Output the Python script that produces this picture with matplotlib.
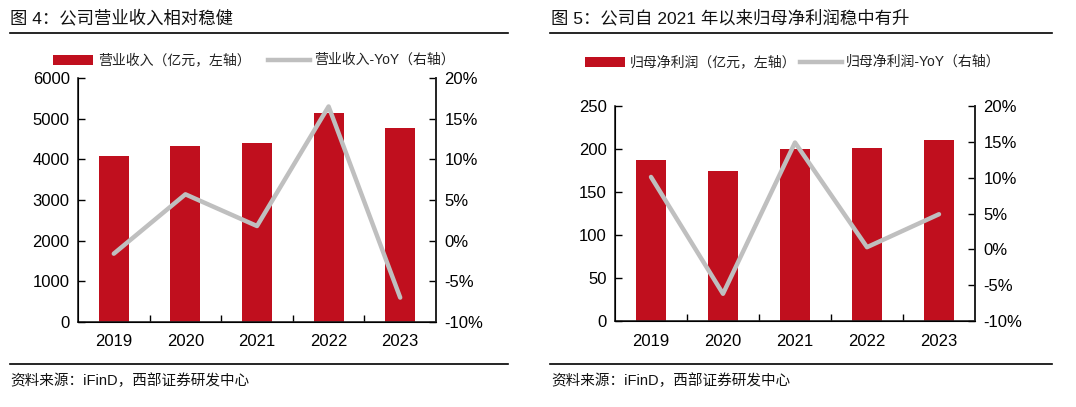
import matplotlib
matplotlib.use("Agg")
import matplotlib.pyplot as plt
from matplotlib.patches import Rectangle
from matplotlib.lines import Line2D
from matplotlib.ticker import FuncFormatter, FixedLocator

plt.rcParams["font.family"] = ["Liberation Sans", "Noto Sans CJK SC"]

# data
years = ["2019", "2020", "2021", "2022", "2023"]
revenue = [4090, 4328, 4410, 5131, 4770]
revenue_yoy = [-1.6, 5.7, 1.8, 16.5, -7.0]
profit = [186.8, 174.7, 200.3, 201.5, 210.8]
profit_yoy = [10.1, -6.2, 14.9, 0.3, 4.9]

RED = "#C00F1E"
GREY = "#BFBFBF"
W, H = 1076, 407

fig = plt.figure(figsize=(W / 100, H / 100), dpi=100)


def px(x0, y0, x1, y1):
    # pixel box (top-left origin) -> figure fraction rect
    return [x0 / W, 1 - y1 / H, (x1 - x0) / W, (y1 - y0) / H]


def panel(box, bars, yoy, ymax, ystep, title, lx, title_x, bar_label, line_label, leg_x, leg_y):
    ax = fig.add_axes(px(*box))
    x = list(range(len(years)))
    ax.bar(x, bars, width=0.42, color=RED, zorder=2)
    ax.set_xlim(-0.5, len(years) - 0.5)
    ax.set_ylim(0, ymax)
    ax.set_yticks(list(range(0, ymax + 1, ystep)))
    ax.set_xticks(x)
    ax.set_xticklabels(years)
    ax.xaxis.set_minor_locator(FixedLocator([i + 0.5 for i in x[:-1]]))
    ax.tick_params(axis="x", which="major", length=0, labelsize=12, pad=9)
    ax.tick_params(axis="x", which="minor", direction="in", length=5, width=1)
    ax.tick_params(axis="y", direction="in", length=5, width=1, labelsize=12, pad=6)
    ax.spines["top"].set_visible(False)
    for s in ["left", "right", "bottom"]:
        ax.spines[s].set_linewidth(1.2)
        ax.spines[s].set_color("#222222")

    ax2 = ax.twinx()
    ax2.plot(x, yoy, color=GREY, lw=3.2, zorder=3, solid_capstyle="round")
    ax2.set_ylim(-10, 20)
    ax2.set_yticks([-10, -5, 0, 5, 10, 15, 20])
    ax2.yaxis.set_major_formatter(FuncFormatter(lambda v, p: f"{v:.0f}%"))
    ax2.tick_params(axis="y", direction="in", length=5, width=1, labelsize=12, pad=6)
    ax2.spines["top"].set_visible(False)
    ax2.spines["right"].set_linewidth(1.2)
    ax2.spines["right"].set_color("#222222")

    # title and rules
    fig.text(title_x / W, 1 - 18 / H, title, fontsize=12.5, va="center", ha="left", color="#111111")
    fig.add_artist(Line2D([lx[0] / W, lx[1] / W], [1 - 32.5 / H] * 2, color="black", lw=1.2))
    fig.add_artist(Line2D([lx[0] / W, lx[1] / W], [1 - 364 / H] * 2, color="black", lw=1.2))
    fig.text(title_x / W, 1 - 381 / H, "资料来源：iFinD，西部证券研发中心", fontsize=10.5,
             va="center", ha="left", color="#111111")

    # legend
    fig.add_artist(Rectangle((leg_x / W, 1 - (leg_y + 5) / H), 40 / W, 10 / H, color=RED, lw=0))
    fig.text((leg_x + 45) / W, 1 - leg_y / H, bar_label, fontsize=10, va="center", ha="left", color="#222222")
    gx = leg_x + 215
    fig.add_artist(Line2D([gx / W, (gx + 42) / W], [1 - leg_y / H] * 2, color=GREY, lw=3.2))
    fig.text((gx + 46) / W, 1 - leg_y / H, line_label, fontsize=10, va="center", ha="left", color="#222222")
    return ax


panel((78, 78, 436, 322), revenue, revenue_yoy, 6000, 1000,
      "图 4：公司营业收入相对稳健", (10, 508), 10,
      "营业收入（亿元，左轴）", "营业收入-YoY（右轴）", 53, 60)
panel((615, 106, 975, 321), profit, profit_yoy, 250, 50,
      "图 5：公司自 2021 年以来归母净利润稳中有升", (550, 1052), 551,
      "归母净利润（亿元，左轴）", "归母净利润-YoY（右轴）", 585, 62)

fig.savefig("out.png", dpi=100)
